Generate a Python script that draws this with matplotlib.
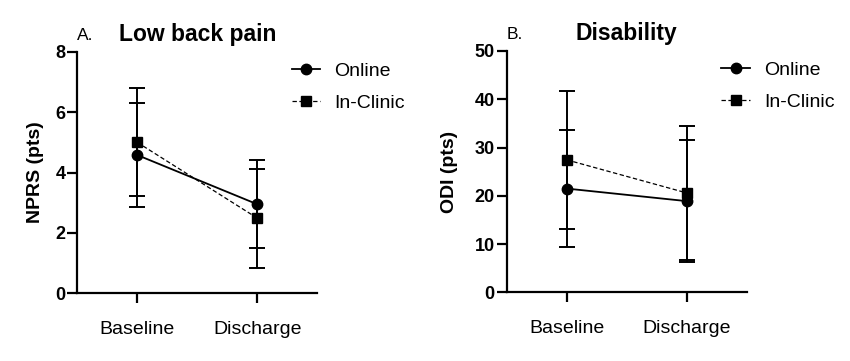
import matplotlib
matplotlib.use("Agg")
import matplotlib.pyplot as plt
from matplotlib.lines import Line2D

plt.rcParams['font.family'] = ['Liberation Sans', 'DejaVu Sans']

categories = ["Baseline", "Discharge"]
series_names = ["Online", "In-Clinic"]

# Panel A: Low back pain (NPRS)
nprs_online_mean = [4.58, 2.95]
nprs_online_sd = [1.73, 1.45]
nprs_clinic_mean = [5.0, 2.49]
nprs_clinic_sd = [1.79, 1.64]

# Panel B: Disability (ODI)
odi_online_mean = [21.5, 18.9]
odi_online_sd = [12.2, 12.6]
odi_clinic_mean = [27.45, 20.6]
odi_clinic_sd = [14.35, 13.8]

W, H = 850, 361
fig = plt.figure(figsize=(W / 100, H / 100), dpi=100)

def make_panel(rect, om, osd, cm, csd, ymax, ystep, ylabel, letter, title, labelpad, legx):
    ax = fig.add_axes(rect)
    x = list(range(len(categories)))
    ax.errorbar(x, om, yerr=osd, fmt='-o', color='black', lw=1.3, ms=7.5,
                elinewidth=1.4, capsize=5.5, capthick=1.4, zorder=3)
    ax.errorbar(x, cm, yerr=csd, fmt='s', color='black', ms=7.5,
                elinewidth=1.4, capsize=5.5, capthick=1.4, zorder=3)
    ax.plot(x, cm, color='black', lw=0.9, ls=(0, (3.5, 2)), zorder=2)
    ax.set_xlim(-0.5, 1.5)
    ax.set_ylim(0, ymax)
    ax.set_yticks(range(0, ymax + 1, ystep))
    ax.set_xticks(x)
    ax.set_xticklabels(categories, fontsize=14)
    for lab in ax.get_yticklabels():
        lab.set_fontweight('bold')
        lab.set_fontsize(13)
    ax.spines['top'].set_visible(False)
    ax.spines['right'].set_visible(False)
    for s in ('left', 'bottom'):
        ax.spines[s].set_linewidth(1.6)
    ax.tick_params(axis='both', width=1.6, length=7, direction='out')
    ax.tick_params(axis='x', pad=13)
    ax.tick_params(axis='y', pad=1.5)
    ax.set_ylabel(ylabel, fontsize=14, fontweight='bold', labelpad=labelpad)
    h1 = Line2D([], [], color='black', lw=1.3, marker='o', ms=7.5)
    h2 = Line2D([], [], color='black', lw=0.9, ls=(0, (3.5, 2)), marker='s', ms=7.5)
    ax.legend([h1, h2], series_names, loc='upper left', bbox_to_anchor=(legx, 0.957),
              frameon=False, fontsize=14, handlelength=1.45, handletextpad=0.75,
              labelspacing=0.75, borderpad=0, borderaxespad=0)
    ax.text(0.0, 1.035, letter, transform=ax.transAxes, fontsize=12.5, ha='left', va='bottom')
    ax.text(0.5, 1.023, title, transform=ax.transAxes, fontsize=16.5, fontweight='bold',
            ha='center', va='bottom')
    return ax

make_panel([0.0909, 0.1875, 0.2824, 0.669], nprs_online_mean, nprs_online_sd,
           nprs_clinic_mean, nprs_clinic_sd, 8, 2, "NPRS (pts)", "A.", "Low back pain", 8, 0.893)
make_panel([0.596, 0.19, 0.2824, 0.669], odi_online_mean, odi_online_sd,
           odi_clinic_mean, odi_clinic_sd, 50, 10, "ODI (pts)", "B.", "Disability", 12, 0.895)

fig.savefig("out.png", dpi=100)
